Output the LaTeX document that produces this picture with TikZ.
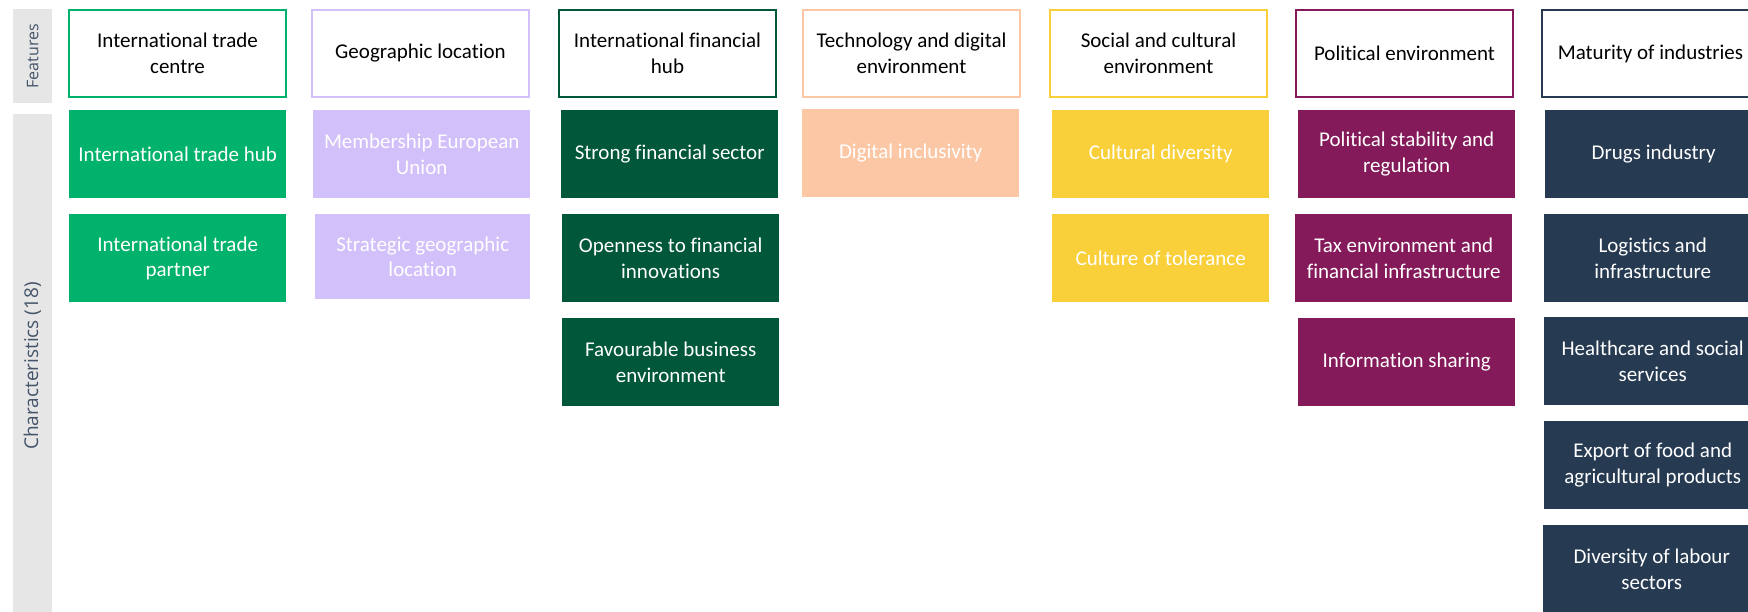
\documentclass[tikz,border=0pt]{standalone}
\usepackage{fontspec}
\setmainfont{Carlito}[Ligatures={NoCommon}]
\newfontfamily\lblfamily{Open Sans}
\definecolor{cTrade}{HTML}{00B26B}
\definecolor{cGeo}{HTML}{D1C0F9}
\definecolor{cFin}{HTML}{00573A}
\definecolor{cTech}{HTML}{FCC7A5}
\definecolor{cSoc}{HTML}{F9CF3A}
\definecolor{cPol}{HTML}{841A5A}
\definecolor{cInd}{HTML}{263A52}
\definecolor{cLblBg}{HTML}{E6E6E6}
\definecolor{cLblTx}{HTML}{44546A}
\newcommand\boxfont{\fontsize{21}{25.6}\selectfont}
\begin{document}
\begin{tikzpicture}[x=1pt,y=-1pt,
  hdr/.style={draw=#1, line width=2pt, fill=white, minimum width=217pt, minimum height=87pt,
    anchor=north west, align=center, text=black, font=\boxfont, inner sep=0pt},
  chr/.style={fill=#1, minimum width=217pt, minimum height=88pt,
    anchor=north west, align=center, text=white, font=\boxfont, inner sep=0pt},
  lblbox/.style={fill=cLblBg, draw=none, inner sep=0pt, anchor=north west, minimum width=39pt}]
\useasboundingbox (0,0) rectangle (1748,611);
\clip (0,0) rectangle (1748,611);
% side labels
\node[lblbox, minimum height=94pt] (lf) at (13,9) {};
\node[rotate=90, text=cLblTx, font=\lblfamily\fontsize{16}{19}\selectfont] (lft) at (lf.center) {Features};
\node[lblbox, minimum height=510pt] (lc) at (13,114) {};
\node[rotate=90, text=cLblTx, font=\lblfamily\fontsize{19}{23}\selectfont] (lct) at (32.5,366) {Characteristics (18)};
% headers
\node[hdr=cTrade] (h1) at (68,9) {International trade\\centre};
\node[hdr=cGeo]   (h2) at (311,9) {Geographic location};
\node[hdr=cFin]   (h3) at (558,9) {International financial\\hub};
\node[hdr=cTech]  (h4) at (802,9) {Technology and digital\\environment};
\node[hdr=cSoc]   (h5) at (1049,9) {Social and cultural\\environment};
\node[hdr=cPol]   (h6) at (1295,9) {Political environment};
\node[hdr=cInd]   (h7) at (1541,9) {Maturity of industries};
% column 1
\node[chr=cTrade] (c11) at (69,110) {International trade hub};
\node[chr=cTrade] (c12) at (69,214) {International trade\\partner};
% column 2
\node[chr=cGeo] (c21) at (313,110) {Membership European\\Union};
\node[chr=cGeo, minimum width=215pt, minimum height=85pt] (c22) at (315,214) {Strategic geographic\\location};
% column 3
\node[chr=cFin] (c31) at (561,110) {Strong financial sector};
\node[chr=cFin] (c32) at (562,214) {Openness to financial\\innovations};
\node[chr=cFin] (c33) at (562,318) {Favourable business\\environment};
% column 4
\node[chr=cTech] (c41) at (802,109) {Digital inclusivity};
% column 5
\node[chr=cSoc] (c51) at (1052,110) {Cultural diversity};
\node[chr=cSoc] (c52) at (1052,214) {Culture of tolerance};
% column 6
\node[chr=cPol] (c61) at (1298,110) {Political stability and\\regulation};
\node[chr=cPol] (c62) at (1295,214) {Tax environment and\\financial infrastructure};
\node[chr=cPol] (c63) at (1298,318) {Information sharing};
% column 7
\node[chr=cInd] (c71) at (1545,110) {Drugs industry};
\node[chr=cInd] (c72) at (1544,214) {Logistics and\\infrastructure};
\node[chr=cInd] (c73) at (1544,317) {Healthcare and social\\services};
\node[chr=cInd] (c74) at (1544,421) {Export of food and\\agricultural products};
\node[chr=cInd] (c75) at (1543,525) {Diversity of labour\\sectors};
\end{tikzpicture}
\end{document}
